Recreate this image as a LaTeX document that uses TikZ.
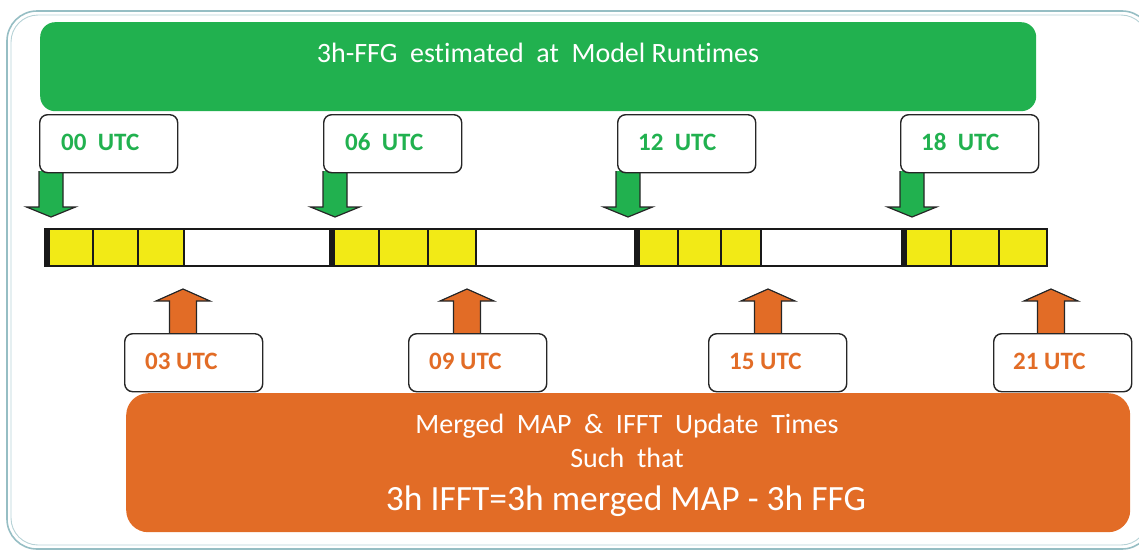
\documentclass[tikz,border=0pt]{standalone}
\usepackage{fontspec}
\setmainfont[Ligatures=CommonOff]{Carlito}
\definecolor{ffggreen}{RGB}{33,177,79}
\definecolor{mapor}{RGB}{226,108,38}
\definecolor{celly}{RGB}{242,234,22}
\definecolor{frameteal}{RGB}{150,190,196}
\tikzset{
  lblbox/.style={draw=black!85, line width=1.4pt, fill=white, rounded corners=8pt, minimum width=138pt, minimum height=58pt, inner sep=0pt},
  lbltxt/.style={font=\fontsize{25}{30}\selectfont\bfseries, anchor=base west, inner sep=0pt},
  downarr/.style={draw=black!85, line width=1.2pt, fill=ffggreen, line join=miter},
  uparr/.style={draw=black!85, line width=1.2pt, fill=mapor, line join=miter},
  bigtxt/.style={text=white, font=\fontsize{28}{33}\selectfont, anchor=base},
}
\begin{document}
\begin{tikzpicture}[x=1pt,y=-1pt]
\useasboundingbox (0,0) rectangle (1139,549);
% outer frame
\draw[frameteal, line width=1.6pt, rounded corners=30pt] (7,11) rectangle (1152,549);
\draw[frameteal!70, line width=0.9pt, rounded corners=27pt] (11,15) rectangle (1148,545);
% green banner
\node[fill=ffggreen, rounded corners=15pt, minimum width=996pt, minimum height=89pt, inner sep=0pt, anchor=north west] (banner) at (40,22) {};
\node[bigtxt] (bannertxt) at (538,62) {3h-FFG\ \ estimated\ \ at\ \ Model Runtimes};
% orange box
\node[fill=mapor, rounded corners=22pt, minimum width=1004pt, minimum height=139pt, inner sep=0pt, anchor=north west] (mbox) at (126,393) {};
\node[bigtxt] (m1) at (627,433) {Merged\ \ MAP\ \ \&\ \ IFFT\ \ Update\ \ Times};
\node[bigtxt] (m2) at (627,467) {Such\ \ that};
\node[bigtxt, font=\fontsize{35.5}{40}\selectfont] (m3) at (626,510) {3h IFFT=3h merged MAP - 3h FFG};
% time bar
\foreach \a/\b in {50/93,93/138,138/184,335/379,379/428,428/476,639/678,678/721,721/761,907/951,951/999,999/1047}{
  \fill[celly] (\a,229) rectangle (\b,266);
}
\foreach \x in {93,138,184,379,428,476,678,721,761,951,999}{
  \draw[black!90, line width=2pt] (\x,229) -- (\x,266);
}
\draw[black!90, line width=2.5pt] (45,229) rectangle (1047,266);
\foreach \x in {47,332,637,904}{
  \draw[black!90, line width=6pt] (\x,228) -- (\x,267);
}
% green labels and arrows
\foreach \nm/\bx/\tp/\tx in {00/39/51/61,06/323/335/345,12/617/628/638,18/900/912/921}{
  \draw[downarr] (\tp-12,171) -- (\tp-12,207) -- (\tp-24.5,207) -- (\tp,217) -- (\tp+24.5,207) -- (\tp+12,207) -- (\tp+12,171);
  \node[lblbox, anchor=north west] (g\nm) at (\bx,114) {};
  \node[lbltxt, text=ffggreen] at (\tx,150) {\nm\ \ UTC};
}
% orange labels and arrows
\foreach \nm/\bx/\tp/\tx in {03/124/183/145,09/408/467/429,15/708/768/729,21/993/1051/1013}{
  \draw[uparr] (\tp-13.5,334) -- (\tp-13.5,301) -- (\tp-27,301) -- (\tp,289) -- (\tp+27,301) -- (\tp+13.5,301) -- (\tp+13.5,334);
  \node[lblbox, anchor=north west] (o\nm) at (\bx,333) {};
  \node[lbltxt, text=mapor] at (\tx,369) {\nm{} UTC};
}
\end{tikzpicture}
\end{document}
